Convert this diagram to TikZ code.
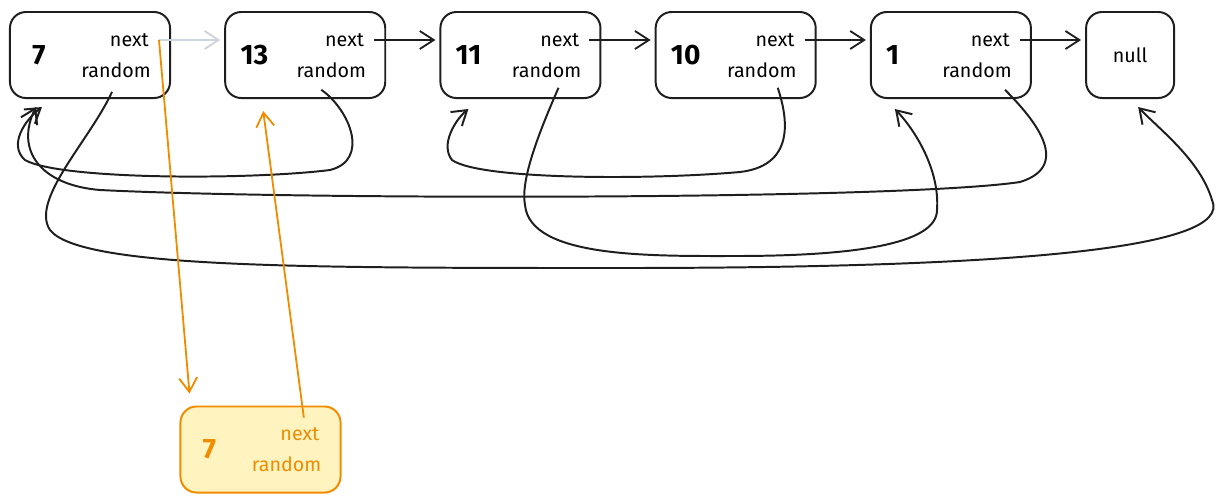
\documentclass[tikz,border=0pt]{standalone}
\usepackage{fontspec}
\setmainfont{Fira Sans}
\usepackage{xcolor}
\usetikzlibrary{positioning}
\usetikzlibrary{arrows.meta}
\definecolor{ink}{HTML}{1E1E1E}
\definecolor{copyline}{HTML}{F08C00}
\definecolor{copyfill}{HTML}{FFF3BF}
\definecolor{faded}{HTML}{CED4DA}

\begin{document}
\begin{tikzpicture}[x=0.025cm,y=-0.025cm,
cell/.style={draw=ink,line width=1.4pt,rounded corners=0.4cm,minimum width=4cm,minimum height=2.15cm},
num/.style={inner sep=0,anchor=west,font=\fontsize{20}{24}\selectfont\bfseries},
field/.style={inner sep=0,anchor=east,font=\fontsize{14}{16}\selectfont},
link/.style={draw=ink,line width=1.3pt,-{Straight Barb[length=3.5mm,width=4.5mm]}},
randlink/.style={link,line width=1.4pt}]
\useasboundingbox (0,0) rectangle (1220,502);

% the list
\node[cell] (A) at (90,55) {};
\node[cell,right=1.33cm of A] (B) {};
\node[cell,right=1.33cm of B] (C) {};
\node[cell,right=1.33cm of C] (D) {};
\node[cell,right=1.33cm of D] (E) {};
\node[cell,right=1.33cm of E,minimum width=2.2cm] (N) {};
\node[font=\fontsize{14}{16}\selectfont] (Nv) at (N) {null};

\foreach \n/\v/\s in {A/7/0.58,B/13/0.4,C/11/0.4,D/10/0.4,E/1/0.4} {
  \node[num] (\n v) at ([xshift=\s cm]\n.west) {\v};
  \node[field] (\n next) at ([xshift=-0.55cm,yshift=0.375cm]\n.east) {next};
  \node[field] (\n rand) at ([xshift=-0.5cm,yshift=-0.375cm]\n.east) {random};
}

% next pointers
\draw[link,draw=faded] ([xshift=0.25cm]Anext.east) -- ([xshift=-0.1cm,yshift=0.375cm]B.west);
\foreach \a/\b in {B/C,C/D,D/E,E/N}
  \draw[link] ([xshift=0.25cm]\a next.east) -- ([xshift=-0.1cm,yshift=0.375cm]\b.west);

% random pointers
\draw[randlink] ([xshift=-0.1cm,yshift=-0.35cm]Arand.south) .. controls (90,140) and (30,200) .. (50,230)
  .. controls (80,268) and (300,268) .. (620,268) .. controls (1000,268) and (1235,250) .. (1212,200)
  .. controls (1200,160) and (1160,130) .. ([xshift=0.2cm,yshift=-0.2cm]N.south);
\draw[randlink] ([xshift=-0.25cm,yshift=-0.3cm]Brand.south) .. controls (350,110) and (370,160) .. (330,170)
  .. controls (250,180) and (60,180) .. (25,160) .. controls (8,145) and (25,120) .. ([xshift=-1.2cm,yshift=-0.2cm]A.south);
\draw[randlink] ([xshift=0.3cm,yshift=-0.25cm]Crand.south) .. controls (540,130) and (520,180) .. (525,205)
  .. controls (530,258) and (650,256) .. (735,256) .. controls (850,256) and (937,245) .. (937,210)
  .. controls (940,170) and (915,130) .. ([xshift=-1.4cm,yshift=-0.25cm]E.south);
\draw[randlink] ([xshift=0.4cm,yshift=-0.25cm]Drand.south) .. controls (785,110) and (800,165) .. (740,172)
  .. controls (650,180) and (480,180) .. (452,160) .. controls (440,145) and (455,120) .. ([xshift=-1.3cm,yshift=-0.25cm]C.south);
\draw[randlink] ([xshift=0.7cm,yshift=-0.3cm]Erand.south) .. controls (1030,115) and (1075,165) .. (1020,182)
  .. controls (900,200) and (300,200) .. (100,190) .. controls (40,185) and (15,150) .. ([xshift=-1.35cm,yshift=-0.2cm]A.south);

% the copy
\node[cell,draw=copyline,fill=copyfill] (A2) at (260.5,449.5) {};
\node[num,text=copyline] (A2v) at ([xshift=0.58cm]A2.west) {7};
\node[field,text=copyline] (A2next) at ([xshift=-0.55cm,yshift=0.375cm]A2.east) {next};
\node[field,text=copyline] (A2rand) at ([xshift=-0.5cm,yshift=-0.375cm]A2.east) {random};

\draw[link,draw=copyline] ([xshift=0.25cm]Anext.east) -- ([xshift=0.25cm,yshift=0.3cm]A2.north west);
\draw[link,draw=copyline] ([xshift=0.1cm,yshift=0.25cm]A2next.north) -- ([xshift=-1.05cm,yshift=-0.3cm]B.south);
\end{tikzpicture}
\end{document}
